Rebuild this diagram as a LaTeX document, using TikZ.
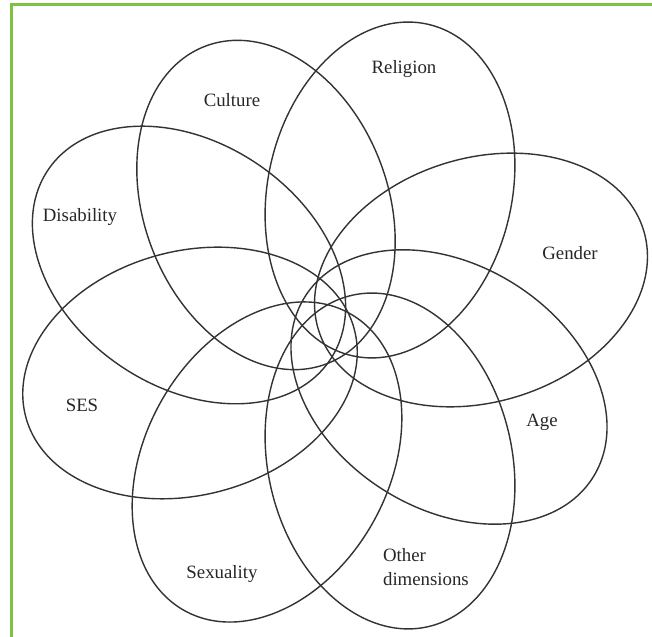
\documentclass[tikz,border=0pt]{standalone}
\usepackage{fontspec}
\setmainfont{Liberation Serif}
\usepackage{xcolor}
\usepackage{tikz}
\usetikzlibrary{shapes.geometric}
\definecolor{frameG}{RGB}{125,195,65}
\tikzset{
  petal/.style = {ellipse, draw=black!80, line width=0.8pt, inner sep=0pt, outer sep=0pt,
                  minimum width=6.8cm, minimum height=4.88cm},
  tag/.style   = {font=\fontsize{10.7}{13.6}\selectfont, text=black!85, inner sep=1pt},
}
\begin{document}
\begin{tikzpicture}

    \useasboundingbox (0,0) rectangle (13.04,12.74);

    %% green frame (top and left only)
    \draw[frameG, line width=1.2pt] (0.23,0) -- (0.23,12.65) -- (13.04,12.65);

    %% petals
    \node[petal, rotate=77]  (rel) at (7.80, 8.94) {};
    \node[petal, rotate=-69] (cul) at (5.32, 8.64) {};
    \node[petal, rotate=-34] (dis) at (3.78, 7.44) {};
    \node[petal, rotate=15]  (ses) at (3.80, 5.28) {};
    \node[petal, rotate=61]  (sex) at (5.34, 3.50) {};
    \node[petal, rotate=-77] (oth) at (7.80, 3.52) {};
    \node[petal, rotate=-32] (age) at (8.98, 5.00) {};
    \node[petal, rotate=17]  (gen) at (9.62, 7.14) {};

    %% labels
    \node[tag] (relL) at ( 8.08, 11.36) {Religion};
    \node[tag] (culL) at ( 4.64, 10.74) {Culture};
    \node[tag] (disL) at ( 1.60,  8.40) {Disability};
    \node[tag] (genL) at (11.40,  7.68) {Gender};
    \node[tag] (sesL) at ( 1.64,  4.64) {SES};
    \node[tag] (ageL) at (10.84,  4.30) {Age};
    \node[tag] (sexL) at ( 4.44,  1.26) {Sexuality};
    \node[tag, align=left, anchor=west] (othL) at (7.62, 1.40) {Other\\dimensions};

\end{tikzpicture}
\end{document}
